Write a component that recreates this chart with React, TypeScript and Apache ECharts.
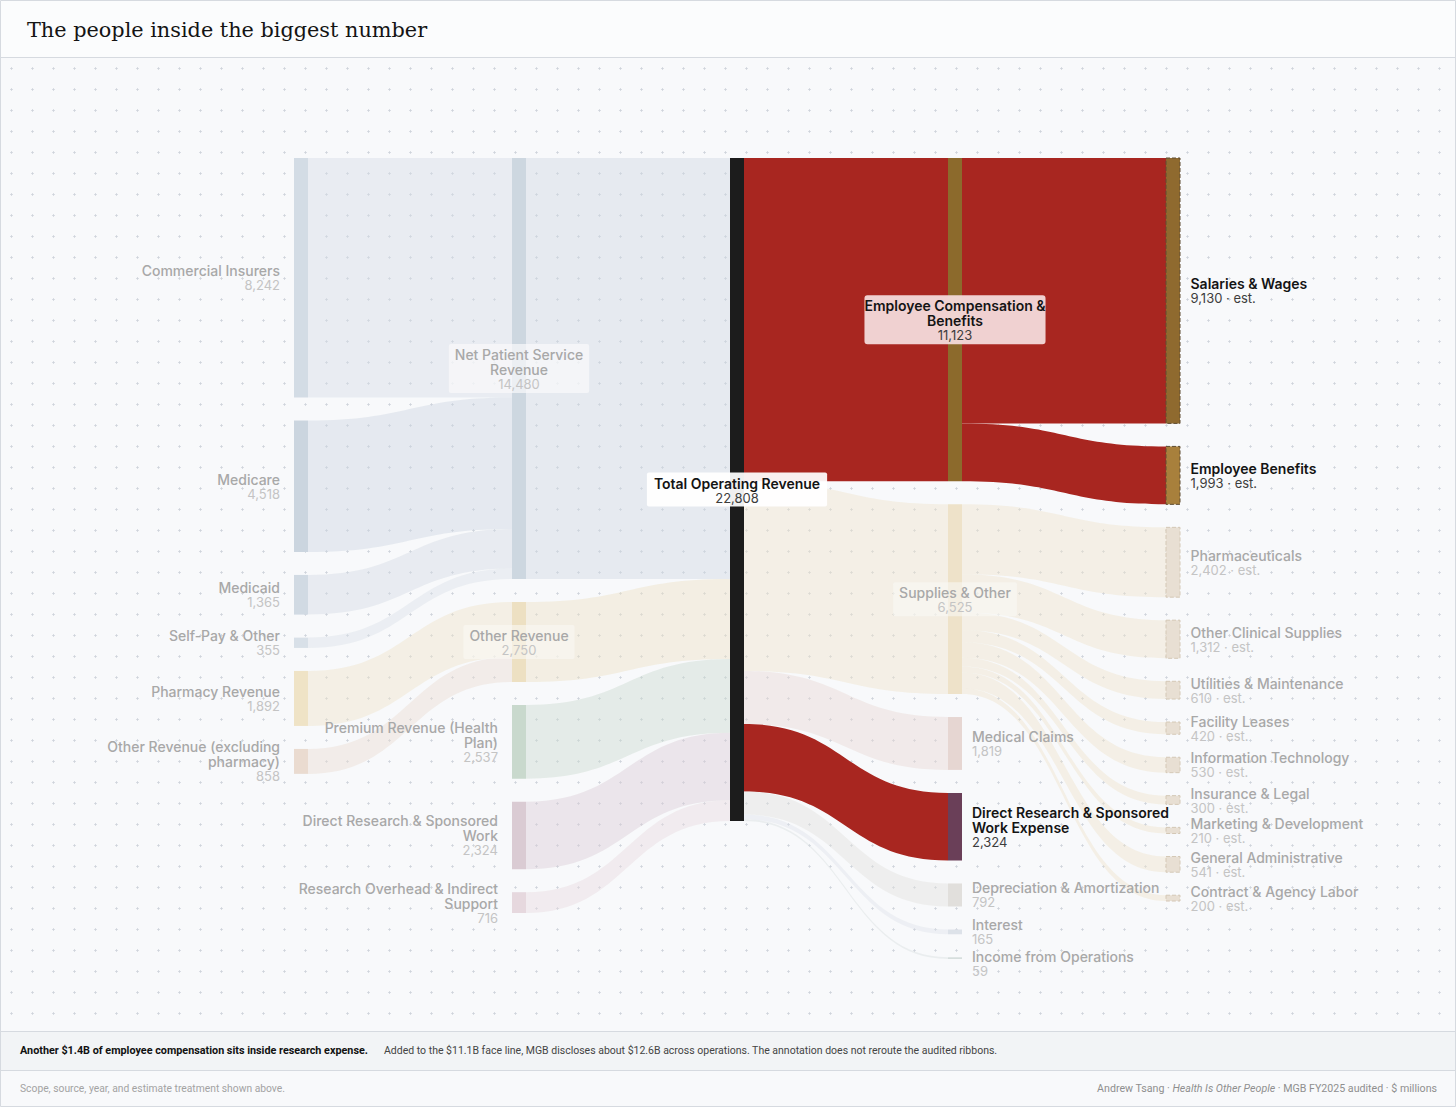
import React, { useEffect, useRef } from 'react';
import * as echarts from 'echarts';

// ---------- text ----------
const TITLE = 'The people inside the biggest number';
const NOTE_BOLD = 'Another $1.4B of employee compensation sits inside research expense.';
const NOTE_TEXT =
  'Added to the $11.1B face line, MGB discloses about $12.6B across operations. The annotation does not reroute the audited ribbons.';
const FOOT_LEFT = 'Scope, source, year, and estimate treatment shown above.';
const FOOT_AUTHOR = 'Andrew Tsang';
const FOOT_PUB = 'Health Is Other People';
const FOOT_SRC = 'MGB FY2025 audited · $ millions';

// ---------- data ($ millions) ----------
const payerNames = ['Commercial Insurers', 'Medicare', 'Medicaid', 'Self-Pay & Other'];
const payerValues = [8242, 4518, 1365, 355];
const otherSourceNames = ['Pharmacy Revenue', 'Other Revenue (excluding pharmacy)'];
const otherSourceValues = [1892, 858];
const revenueNames = [
  'Net Patient Service Revenue',
  'Other Revenue',
  'Premium Revenue (Health Plan)',
  'Direct Research & Sponsored Work',
  'Research Overhead & Indirect Support',
];
const revenueValues = [14480, 2750, 2537, 2324, 716];
const totalName = 'Total Operating Revenue';
const totalValue = 22808;
const expenseNames = [
  'Employee Compensation & Benefits',
  'Supplies & Other',
  'Medical Claims',
  'Direct Research & Sponsored Work Expense',
  'Depreciation & Amortization',
  'Interest',
  'Income from Operations',
];
const expenseValues = [11123, 6525, 1819, 2324, 792, 165, 59];
const compNames = ['Salaries & Wages', 'Employee Benefits'];
const compValues = [9130, 1993];
const supplyNames = [
  'Pharmaceuticals',
  'Other Clinical Supplies',
  'Utilities & Maintenance',
  'Facility Leases',
  'Information Technology',
  'Insurance & Legal',
  'Marketing & Development',
  'General Administrative',
  'Contract & Agency Labor',
];
const supplyValues = [2402, 1312, 610, 420, 530, 300, 210, 541, 200];
const estimatedNames = [...compNames, ...supplyNames];
const highlightedNames = [
  totalName,
  'Employee Compensation & Benefits',
  'Salaries & Wages',
  'Employee Benefits',
  'Direct Research & Sponsored Work Expense',
];
const highlightedLinks = [
  [totalName, 'Employee Compensation & Benefits'],
  ['Employee Compensation & Benefits', 'Salaries & Wages'],
  ['Employee Compensation & Benefits', 'Employee Benefits'],
  [totalName, 'Direct Research & Sponsored Work Expense'],
];

// ---------- display / style ----------
const FONT = 'Inter, "Noto Sans", sans-serif';
const wrapped: Record<string, string[]> = {
  'Net Patient Service Revenue': ['Net Patient Service', 'Revenue'],
  'Other Revenue (excluding pharmacy)': ['Other Revenue (excluding', 'pharmacy)'],
  'Premium Revenue (Health Plan)': ['Premium Revenue (Health', 'Plan)'],
  'Direct Research & Sponsored Work': ['Direct Research & Sponsored', 'Work'],
  'Research Overhead & Indirect Support': ['Research Overhead & Indirect', 'Support'],
  'Employee Compensation & Benefits': ['Employee Compensation &', 'Benefits'],
  'Direct Research & Sponsored Work Expense': ['Direct Research & Sponsored', 'Work Expense'],
};
const nodeColors: Record<string, string> = {
  'Commercial Insurers': '#d3dce5',
  Medicare: '#cbd5df',
  Medicaid: '#d1dae3',
  'Self-Pay & Other': '#d8e0e8',
  'Pharmacy Revenue': '#efe3c6',
  'Other Revenue (excluding pharmacy)': '#eadbd0',
  'Net Patient Service Revenue': '#cdd7e0',
  'Other Revenue': '#ede0c2',
  'Premium Revenue (Health Plan)': '#c9d9cd',
  'Direct Research & Sponsored Work': '#dacbd3',
  'Research Overhead & Indirect Support': '#e6d8de',
  'Total Operating Revenue': '#1c1c1c',
  'Employee Compensation & Benefits': '#8c6a2c',
  'Supplies & Other': '#eee2c9',
  'Medical Claims': '#e6d6d2',
  'Direct Research & Sponsored Work Expense': '#6a3f58',
  'Depreciation & Amortization': '#e1dfdc',
  Interest: '#dde2e9',
  'Income from Operations': '#d6dedd',
  'Salaries & Wages': '#8f6a2f',
  'Employee Benefits': '#a8803c',
};
const SUPPLY_CHILD_COLOR = '#e8dfd3';
const RED = '#a82620';
const insideLabels = [
  'Net Patient Service Revenue',
  'Other Revenue',
  totalName,
  'Employee Compensation & Benefits',
  'Supplies & Other',
];
const leftLabels = [
  ...payerNames,
  ...otherSourceNames,
  'Premium Revenue (Health Plan)',
  'Direct Research & Sponsored Work',
  'Research Overhead & Indirect Support',
];
const labelNudges: Record<string, number[]> = {
  'Income from Operations': [0, 5],
};
const labelBoxes: Record<string, any> = {
  [totalName]: { backgroundColor: 'rgba(255,255,255,0.93)', padding: [3, 7, 2, 7], borderRadius: 2 },
  'Employee Compensation & Benefits': {
    backgroundColor: 'rgba(242,217,217,0.96)',
    padding: [3, 0, 2, 0],
    borderRadius: 3,
  },
  'Net Patient Service Revenue': { backgroundColor: 'rgba(249,250,251,0.7)', padding: [3, 6, 2, 6], borderRadius: 2 },
  'Supplies & Other': { backgroundColor: 'rgba(249,248,245,0.6)', padding: [3, 6, 2, 6], borderRadius: 2 },
  'Other Revenue': { backgroundColor: 'rgba(250,248,243,0.6)', padding: [3, 6, 2, 6], borderRadius: 2 },
};

function richFor(align: string) {
  return {
    n: { fontFamily: FONT, fontSize: 14, fontWeight: 500, color: '#a8a8a8', lineHeight: 15, align },
    v: { fontFamily: FONT, fontSize: 13, fontWeight: 400, color: '#c4c4c4', lineHeight: 14, align },
    N: { fontFamily: FONT, fontSize: 14, fontWeight: 600, color: '#141414', lineHeight: 15, align },
    V: { fontFamily: FONT, fontSize: 13, fontWeight: 400, color: '#3d3d3d', lineHeight: 14, align },
  };
}

function colorOf(name: string) {
  return nodeColors[name] || SUPPLY_CHILD_COLOR;
}

function buildNodes() {
  const columns: [string[], number[], number][] = [
    [[...payerNames, ...otherSourceNames], [...payerValues, ...otherSourceValues], 0],
    [revenueNames, revenueValues, 1],
    [[totalName], [totalValue], 2],
    [expenseNames, expenseValues, 3],
    [[...compNames, ...supplyNames], [...compValues, ...supplyValues], 4],
  ];
  const nodes: any[] = [];
  columns.forEach(([names, values, depth]) => {
    names.forEach((name, i) => {
      const side = insideLabels.includes(name) ? 'inside' : leftLabels.includes(name) ? 'left' : 'right';
      const align = side === 'left' ? 'right' : side === 'right' ? 'left' : 'center';
      const est = estimatedNames.includes(name);
      const hi = highlightedNames.includes(name);
      nodes.push({
        name,
        value: values[i],
        depth,
        itemStyle: {
          color: colorOf(name),
          borderWidth: est ? 1 : 0,
          borderType: 'dashed',
          borderColor: est ? (hi ? '#5e4c33' : '#d4c8b6') : 'transparent',
        },
        label: {
          position: side,
          distance: side === 'left' ? 14 : 10,
          offset: labelNudges[name] || [0, 0],
          rich: richFor(align),
          ...(labelBoxes[name] || {}),
        },
      });
    });
  });
  return nodes;
}

function buildLinks() {
  const links: any[] = [];
  const add = (source: string, target: string, value: number) => {
    const hi = highlightedLinks.some(([s, t]) => s === source && t === target);
    const base = source === totalName ? colorOf(target) : colorOf(source);
    links.push({
      source,
      target,
      value,
      lineStyle: hi ? { color: RED, opacity: 1 } : { color: base, opacity: 0.42 },
    });
  };
  payerNames.forEach((n, i) => add(n, revenueNames[0], payerValues[i]));
  otherSourceNames.forEach((n, i) => add(n, revenueNames[1], otherSourceValues[i]));
  revenueNames.forEach((n, i) => add(n, totalName, revenueValues[i]));
  expenseNames.forEach((n, i) => add(totalName, n, expenseValues[i]));
  compNames.forEach((n, i) => add(expenseNames[0], n, compValues[i]));
  supplyNames.forEach((n, i) => add(expenseNames[1], n, supplyValues[i]));
  return links;
}

export default function App() {
  const ref = useRef<HTMLDivElement>(null);

  useEffect(() => {
    document.body.style.margin = '0';
    if (!ref.current) return;
    const chart = echarts.init(ref.current, undefined, { renderer: 'svg' });
    const footText = { fontFamily: 'Roboto, sans-serif', fontSize: 10.5 };
    chart.setOption({
      animation: false,
      backgroundColor: 'transparent',
      graphic: [
        { type: 'rect', silent: true, shape: { x: 0, y: 0, width: 1456, height: 58 }, style: { fill: '#fbfcfd' } },
        { type: 'line', silent: true, shape: { x1: 0, y1: 57.5, x2: 1456, y2: 57.5 }, style: { stroke: '#d6dae0', lineWidth: 1 } },
        {
          type: 'text',
          x: 27,
          y: 30,
          style: {
            text: TITLE,
            fontFamily: '"DejaVu Serif", "Liberation Serif", serif',
            fontSize: 20.8,
            fill: '#141414',
            verticalAlign: 'middle',
          },
        },
        { type: 'rect', silent: true, shape: { x: 0, y: 1031, width: 1456, height: 39 }, style: { fill: '#f2f4f6' } },
        { type: 'line', silent: true, shape: { x1: 0, y1: 1031.5, x2: 1456, y2: 1031.5 }, style: { stroke: '#d6dae0', lineWidth: 1 } },
        { type: 'line', silent: true, shape: { x1: 0, y1: 1070.5, x2: 1456, y2: 1070.5 }, style: { stroke: '#d6dae0', lineWidth: 1 } },
        {
          type: 'text',
          x: 20,
          y: 1050,
          style: { text: NOTE_BOLD, ...footText, fontSize: 10.8, fontWeight: 700, fill: '#111', verticalAlign: 'middle' },
        },
        {
          type: 'text',
          x: 384,
          y: 1050,
          style: { text: NOTE_TEXT, ...footText, fill: '#444', verticalAlign: 'middle' },
        },
        { type: 'rect', silent: true, shape: { x: 0, y: 1071, width: 1456, height: 36 }, style: { fill: '#f8f9fb' } },
        {
          type: 'text',
          x: 20,
          y: 1088,
          style: { text: FOOT_LEFT, ...footText, fontSize: 10.3, fill: '#a3a3a3', verticalAlign: 'middle' },
        },
        {
          type: 'text',
          x: 1437,
          y: 1088,
          style: {
            text: `{a|${FOOT_AUTHOR} · }{i|${FOOT_PUB}}{a| · ${FOOT_SRC}}`,
            align: 'right',
            verticalAlign: 'middle',
            rich: {
              a: { ...footText, fontSize: 10.65, fill: '#8f8f8f' },
              i: { ...footText, fontSize: 10.65, fill: '#8f8f8f', fontStyle: 'italic' },
            },
          },
        },
        {
          type: 'rect',
          silent: true,
          shape: { x: 0.5, y: 0.5, width: 1455, height: 1106 },
          style: { fill: 'none', stroke: '#d6dae0', lineWidth: 1 },
        },
      ],
      series: [
        {
          type: 'sankey',
          left: 294,
          right: 276,
          top: 158,
          bottom: 148,
          nodeWidth: 14,
          nodeGap: 23,
          nodeAlign: 'left',
          layoutIterations: 0,
          draggable: false,
          emphasis: { disabled: true },
          data: buildNodes(),
          links: buildLinks(),
          lineStyle: { curveness: 0.5 },
          label: {
            fontFamily: FONT,
            formatter: (p: any) => {
              const hi = highlightedNames.includes(p.name);
              const lines = wrapped[p.name] || [p.name];
              const val =
                Number(p.value).toLocaleString('en-US') + (estimatedNames.includes(p.name) ? ' · est.' : '');
              return [...lines.map((l) => `{${hi ? 'N' : 'n'}|${l}}`), `{${hi ? 'V' : 'v'}|${val}}`].join('\n');
            },
          },
        },
      ],
    });
    return () => chart.dispose();
  }, []);

  return (
    <div style={{ position: 'relative', width: 1456, height: 1107, background: '#f8f9fb', overflow: 'hidden' }}>
      <div
        style={{
          position: 'absolute',
          left: 0,
          top: 58,
          width: 1456,
          height: 973,
          backgroundImage: 'radial-gradient(circle, #cfd4db 0.9px, rgba(0,0,0,0) 1.3px)',
          backgroundSize: '21px 21px',
          backgroundPosition: '1px 0px',
        }}
      />
      <div ref={ref} style={{ position: 'absolute', left: 0, top: 0, width: 1456, height: 1107 }} />
    </div>
  );
}
